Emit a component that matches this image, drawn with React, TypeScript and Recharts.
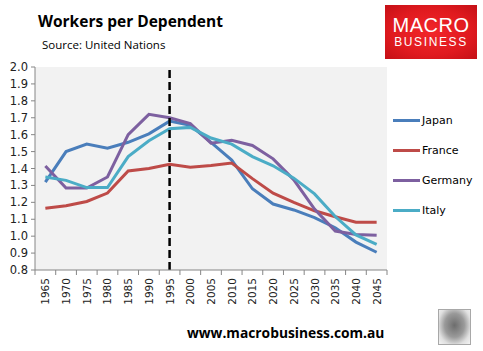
import { LineChart, Line, XAxis, YAxis, CartesianGrid, ReferenceLine } from "recharts";

const YEARS = [1965, 1970, 1975, 1980, 1985, 1990, 1995, 2000, 2005, 2010, 2015, 2020, 2025, 2030, 2035, 2040, 2045];
const JAPAN = [1.32, 1.5, 1.545, 1.52, 1.555, 1.605, 1.68, 1.655, 1.555, 1.45, 1.28, 1.19, 1.155, 1.11, 1.05, 0.965, 0.905];
const FRANCE = [1.165, 1.18, 1.205, 1.255, 1.385, 1.4, 1.425, 1.408, 1.418, 1.432, 1.34, 1.254, 1.2, 1.15, 1.115, 1.082, 1.082];
const GERMANY = [1.415, 1.284, 1.284, 1.35, 1.6, 1.72, 1.7, 1.665, 1.55, 1.567, 1.536, 1.457, 1.333, 1.16, 1.03, 1.01, 1.005];
const ITALY = [1.35, 1.33, 1.287, 1.287, 1.47, 1.564, 1.635, 1.643, 1.58, 1.544, 1.47, 1.416, 1.343, 1.25, 1.116, 1.007, 0.952];
const Y_TICKS = [0.8, 0.9, 1.0, 1.1, 1.2, 1.3, 1.4, 1.5, 1.6, 1.7, 1.8, 1.9, 2.0];
const MARK_YEAR = 1995;

const SERIES = [
  { key: "Japan", values: JAPAN, color: "#4A7EBB" },
  { key: "France", values: FRANCE, color: "#BE4B48" },
  { key: "Germany", values: GERMANY, color: "#7D60A0" },
  { key: "Italy", values: ITALY, color: "#4BACC6" },
];

const data = YEARS.map((year, i) => {
  const row: Record<string, number> = { year };
  SERIES.forEach((s) => (row[s.key] = s.values[i]));
  return row;
});

const W = 483;
const H = 351;
const MARGIN = { top: 67, right: 96, bottom: 0, left: 0 };
const Y_AXIS_W = 35;
const X_AXIS_H = 81;
const PLOT_W = W - MARGIN.left - MARGIN.right - Y_AXIS_W;
const HALF_STEP = PLOT_W / YEARS.length / 2;
const STEP_YEARS = 5;
const AXIS = "#868686";
const FONT = "'DejaVu Sans', Verdana, sans-serif";

function XTick({ x, y, payload, index }: any) {
  const top = y - 8;
  const last = index === YEARS.length - 1;
  return (
    <g>
      <line x1={x - HALF_STEP} x2={x - HALF_STEP} y1={top} y2={top + 5} stroke={AXIS} />
      {last && <line x1={x + HALF_STEP} x2={x + HALF_STEP} y1={top} y2={top + 5} stroke={AXIS} />}
      <text
        x={x}
        y={y}
        transform={`rotate(-90 ${x} ${y})`}
        textAnchor="end"
        dominantBaseline="central"
        fontSize={10.5}
        fontFamily={FONT}
        fill="#222"
      >
        {payload.value}
      </text>
    </g>
  );
}

export default function App() {
  return (
    <div style={{ position: "absolute", left: 0, top: 0, width: W, height: H, background: "#fff" }}>
      <div style={{ position: "absolute", left: 38, top: 10, fontFamily: "'Open Sans', sans-serif", fontWeight: 700, fontSize: 15.5, color: "#000", whiteSpace: "nowrap" }}>
        Workers per Dependent
      </div>
      <div style={{ position: "absolute", left: 42, top: 37, fontFamily: "'Open Sans', sans-serif", fontSize: 11.5, color: "#000", whiteSpace: "nowrap" }}>
        Source: United Nations
      </div>
      <div
        style={{
          position: "absolute",
          left: 385,
          top: 5,
          width: 92,
          height: 54,
          background: "radial-gradient(ellipse at center, #f2262a 0%, #e01a1f 60%, #c41016 100%)",
          color: "#fff",
          fontFamily: "'Liberation Sans', Arial, sans-serif",
          textAlign: "center",
        }}
      >
        <div style={{ fontSize: 20, marginTop: 10, lineHeight: "20px", letterSpacing: 0.5 }}>MACRO</div>
        <div style={{ fontSize: 12, lineHeight: "14px", letterSpacing: 1.6 }}>BUSINESS</div>
      </div>

      <div style={{ position: "absolute", left: 0, top: 0 }}>
        <LineChart width={W} height={H} data={data} margin={MARGIN}>
          <CartesianGrid horizontal={false} vertical={false} fill="#F2F2F2" />
          <XAxis
            dataKey="year"
            type="number"
            domain={[YEARS[0] - STEP_YEARS / 2, YEARS[YEARS.length - 1] + STEP_YEARS / 2]}
            ticks={YEARS}
            interval={0}
            height={X_AXIS_H}
            tickSize={5}
            tickMargin={3}
            tickLine={false}
            axisLine={{ stroke: AXIS }}
            tick={<XTick />}
            allowDataOverflow
          />
          <YAxis
            type="number"
            domain={[Y_TICKS[0], Y_TICKS[Y_TICKS.length - 1]]}
            ticks={Y_TICKS}
            interval={0}
            width={Y_AXIS_W}
            tickSize={4}
            tickMargin={3}
            tickLine={{ stroke: AXIS }}
            axisLine={{ stroke: AXIS }}
            tickFormatter={(v: number) => v.toFixed(1)}
            tick={{ fontSize: 11.5, fontFamily: FONT, fill: "#222" }}
          />
          {SERIES.map((s) => (
            <Line
              key={s.key}
              dataKey={s.key}
              stroke={s.color}
              strokeWidth={3}
              dot={false}
              activeDot={false}
              isAnimationActive={false}
            />
          ))}
          <ReferenceLine x={MARK_YEAR} stroke="#000" strokeWidth={2.5} strokeDasharray="8 4" />
        </LineChart>
      </div>

      {SERIES.map((s, i) => (
        <div key={s.key} style={{ position: "absolute", left: 393, top: 113 + i * 30, height: 14, display: "flex", alignItems: "center" }}>
          <div style={{ width: 27, height: 3, background: s.color }} />
          <span style={{ marginLeft: 2, fontFamily: FONT, fontSize: 11, color: "#000" }}>{s.key}</span>
        </div>
      ))}

      <div style={{ position: "absolute", left: 187, top: 323, fontFamily: "'Open Sans', sans-serif", fontWeight: 700, fontSize: 13.8, color: "#000", whiteSpace: "nowrap" }}>
        www.macrobusiness.com.au
      </div>
      <div
        style={{
          position: "absolute",
          left: 438,
          top: 309,
          width: 31,
          height: 34,
          border: "1px solid #a8a8a8",
          background: "radial-gradient(ellipse at 50% 45%, #6d6d6d 0%, #9a9a9a 45%, #e0e0e0 75%, #f4f4f4 100%)",
        }}
      />
    </div>
  );
}
